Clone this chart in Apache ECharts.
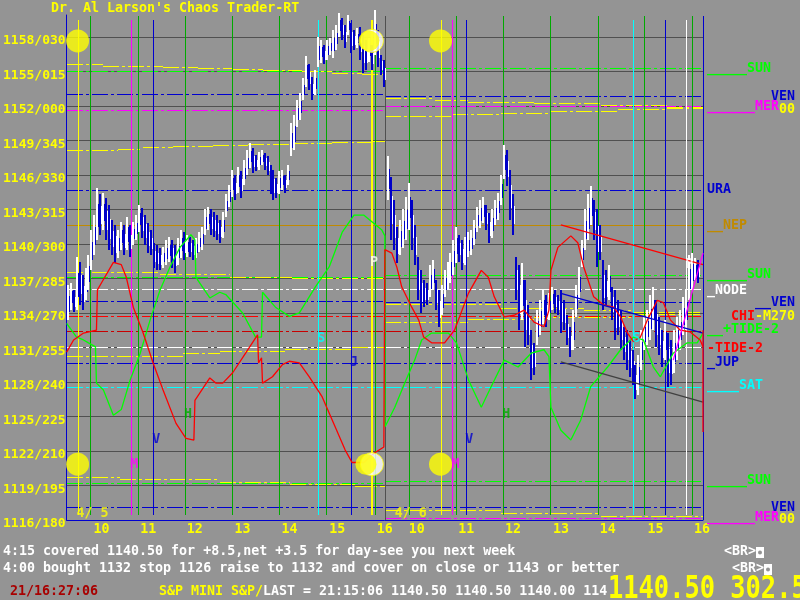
<!DOCTYPE html>
<html><head><meta charset="utf-8">
<script src="https://cdn.jsdelivr.net/npm/echarts@6/dist/echarts.min.js"></script>
<style>html,body{margin:0;padding:0;background:#949494}#c{width:800px;height:600px}</style>
</head><body><div id="c"></div>
<script>
// ---------- DATA ----------
// x values are session hours counted from 9:15 on 4/5 (chart start)
const hourLabels = ['10','11','12','13','14','15','16'];
const day1HourTimes = [0.74,1.73,2.72,3.73,4.73,5.74,6.75];
const day2HourTimes = [7.43,8.48,9.47,10.49,11.48,12.49,13.48];
const dayLabels = ['4/ 5','4/ 6'];
const dayLabelTimes = [0.55,7.3];
const dayBounds = [[0,6.75],[6.75,13.5]];

const yTickValues = [1116,1119,1122,1125,1128,1131,1134,1137,1140,1143,1146,1149,1152,1155,1158];
const yTickLabels = ['1116/180','1119/195','1122/210','1125/225','1128/240','1131/255','1134/270','1137/285','1140/300','1143/315','1146/330','1149/345','1152/000','1155/015','1158/030'];

// S&P mini price bars (high / low), one bar every BAR_HOURS
const BAR_HOURS = 0.0633;
const day1FirstBar = 0.021, day2FirstBar = 6.814;
const day1High = [1136.4,1136.6,1136.0,1138.9,1138.4,1137.3,1137.9,1139.05,1141.2,1142.5,
1144.9,1144.3,1144.4,1144.0,1143.4,1142.1,1141.65,1141.2,1141.9,1141.65,
1142.35,1141.65,1141.9,1142.5,1143.4,1143.1,1142.5,1141.8,1141.2,1140.1,
1139.9,1139.65,1139.7,1140.35,1140.6,1140.35,1139.9,1140.5,1141.2,1141.05,
1140.8,1140.6,1140.35,1140.5,1141.05,1141.5,1143.0,1143.2,1143.0,1142.8,
1142.5,1142.1,1142.8,1144.3,1145.1,1146.4,1146.0,1146.7,1146.3,1147.3,
1148.2,1148.8,1148.35,1147.7,1148.0,1148.2,1147.9,1147.6,1146.9,1146.4,
1145.7,1146.3,1146.4,1146.0,1146.9,1150.5,1151.2,1152.5,1153.1,1154.4,
1156.3,1155.6,1154.5,1155.1,1158.0,1157.7,1157.3,1157.7,1157.9,1158.6,
1159.05,1160.09,1159.65,1159.05,1159.9,1159.2,1158.6,1158.8,1158.87,1158.2,
1157.7,1157.9,1157.3,1160.35,1158.6,1156.4,1156.0];
const day1Low = [1133.4,1134.25,1134.1,1134.25,1134.7,1134.25,1135.1,1136.0,1137.7,1139.05,
1140.35,1140.8,1141.2,1140.35,1139.5,1139.05,1138.35,1138.8,1139.5,1139.05,
1139.5,1138.9,1139.9,1140.35,1141.05,1140.5,1139.9,1139.2,1139.05,1137.9,
1137.7,1137.7,1137.9,1138.2,1138.4,1137.9,1137.5,1138.2,1138.8,1138.6,
1138.9,1138.9,1138.6,1138.8,1139.3,1139.5,1140.8,1141.2,1140.8,1140.6,
1140.35,1140.1,1140.5,1142.35,1143.2,1144.1,1143.8,1144.4,1144.0,1145.1,
1146.0,1146.6,1146.2,1146.3,1146.4,1146.9,1146.4,1146.0,1144.3,1143.8,
1144.0,1144.3,1144.7,1144.4,1145.1,1147.6,1148.2,1150.2,1150.8,1152.5,
1153.65,1153.4,1152.5,1152.95,1155.4,1155.7,1155.6,1156.0,1156.4,1156.2,
1156.9,1158.0,1157.7,1157.05,1158.2,1156.6,1156.9,1157.05,1156.0,1154.9,
1155.1,1155.8,1155.1,1156.4,1155.4,1154.7,1153.65];
const day2High = [1147.6,1145.8,1143.8,1141.5,1142.1,1143.0,1144.1,1145.3,1143.8,1141.65,
1138.9,1137.7,1136.9,1136.6,1138.2,1138.6,1136.9,1136.0,1136.4,1137.7,
1138.4,1139.2,1140.35,1141.5,1140.8,1140.35,1140.6,1141.05,1141.2,1142.1,
1143.2,1143.8,1144.1,1143.4,1142.7,1143.0,1143.8,1144.4,1146.0,1148.6,
1148.2,1146.4,1144.3,1138.9,1138.2,1138.35,1136.9,1134.7,1132.5,1131.4,
1134.25,1135.1,1136.0,1135.6,1135.7,1136.25,1136.0,1135.6,1136.0,1135.1,
1133.8,1132.8,1134.25,1136.4,1138.0,1140.35,1143.0,1144.3,1145.0,1143.8,
1143.0,1141.65,1138.6,1137.7,1138.2,1136.25,1136.0,1135.1,1134.25,1132.8,
1132.5,1131.65,1130.8,1129.5,1130.35,1132.5,1133.65,1134.25,1135.6,1136.25,
1135.1,1133.65,1132.5,1133.4,1132.25,1131.65,1132.5,1133.65,1134.25,1135.4,
1136.0,1139.05,1139.2,1138.8,1138.6];
const day2Low = [1143.8,1140.35,1139.5,1138.35,1139.05,1139.65,1140.35,1141.2,1139.5,1138.2,
1135.1,1134.0,1134.5,1134.7,1135.4,1136.0,1134.25,1132.8,1133.8,1135.4,
1136.0,1136.6,1137.3,1138.35,1138.4,1137.7,1138.2,1138.9,1139.05,1139.9,
1141.0,1141.4,1141.8,1141.2,1140.1,1140.5,1141.65,1142.1,1143.4,1145.6,
1145.0,1142.1,1140.8,1135.1,1132.5,1133.4,1131.05,1131.2,1128.2,1128.6,
1131.2,1132.1,1133.0,1132.8,1133.4,1134.25,1134.0,1133.8,1132.25,1132.5,
1131.2,1130.2,1130.8,1133.65,1135.1,1138.0,1139.5,1140.35,1141.65,1140.35,
1138.0,1138.6,1134.25,1134.7,1135.1,1133.4,1131.65,1132.1,1130.8,1129.9,
1129.05,1128.45,1127.75,1126.5,1126.9,1129.05,1130.8,1131.2,1131.65,1132.5,
1131.05,1130.35,1129.3,1129.9,1127.6,1127.75,1128.8,1129.9,1130.8,1132.1,
1132.5,1135.1,1136.0,1136.9,1136.6];

// cycle curves [time, level]
const greenCycle = [[0,1133.1],[0.211,1131.9],[0.359,1131.65],[0.464,1131.4],[0.612,1131.05],[0.633,1127.9],[0.781,1127.3],[0.992,1125.1],[1.16,1125.6],[1.35,1128.2],[1.561,1130.5],[1.772,1133.4],[1.983,1136.0],[2.194,1138.0],[2.405,1139.7],[2.637,1140.8],[2.722,1140.35],[2.743,1137.1],[3.038,1135.3],[3.249,1135.8],[3.376,1135.6],[3.734,1134.0],[4.008,1131.9],[4.135,1131.9],[4.156,1135.8],[4.43,1134.5],[4.726,1133.7],[4.937,1134.0],[5.274,1136.25],[5.57,1138.0],[5.844,1141.0],[6.097,1142.5],[6.308,1142.5],[6.688,1141.2],[6.751,1140.7],[6.755,1124.1],[6.962,1125.8],[7.173,1127.9],[7.384,1129.9],[7.532,1131.65],[7.743,1132.25],[8.101,1132.25],[8.27,1131.4],[8.523,1128.2],[8.797,1125.8],[9.008,1127.6],[9.283,1129.9],[9.578,1129.3],[9.852,1130.5],[10.127,1130.8],[10.232,1130.2],[10.274,1125.8],[10.485,1123.8],[10.696,1122.95],[10.907,1124.7],[11.118,1127.6],[11.477,1129.3],[11.751,1130.8],[12.025,1131.9],[12.236,1131.65],[12.447,1129.3],[12.595,1128.45],[12.869,1130.5],[13.165,1131.4],[13.376,1131.4],[13.5,1132.25]];
const redCycle = [[0,1130.6],[0.148,1131.65],[0.359,1132.25],[0.633,1132.5],[0.654,1136.0],[0.738,1136.6],[0.992,1138.4],[1.16,1138.2],[1.266,1137.1],[1.414,1134.5],[1.624,1132.25],[1.835,1129.65],[2.046,1127.3],[2.321,1124.4],[2.532,1123.1],[2.7,1122.95],[2.722,1126.4],[3.038,1128.35],[3.165,1127.9],[3.312,1127.9],[3.523,1128.8],[3.797,1130.5],[4.051,1132.1],[4.072,1129.65],[4.135,1130.1],[4.156,1127.9],[4.367,1128.45],[4.578,1129.5],[4.726,1129.8],[4.937,1129.65],[5.148,1128.45],[5.422,1126.7],[5.696,1124.1],[5.907,1122.1],[6.055,1121.0],[6.308,1121.0],[6.519,1121.8],[6.73,1122.35],[6.751,1139.5],[6.899,1139.2],[7.004,1138.0],[7.11,1136.25],[7.321,1134.5],[7.468,1133.4],[7.574,1131.9],[7.743,1131.4],[8.017,1131.4],[8.228,1132.5],[8.523,1135.7],[8.797,1137.7],[8.945,1137.1],[9.072,1135.4],[9.283,1133.65],[9.494,1133.8],[9.705,1134.25],[9.916,1133.2],[10.127,1132.8],[10.232,1134.25],[10.274,1137.7],[10.422,1139.7],[10.696,1140.7],[10.844,1140.1],[10.97,1138.0],[11.181,1135.4],[11.392,1134.7],[11.603,1134.5],[11.751,1133.65],[11.899,1132.25],[12.025,1131.5],[12.173,1131.9],[12.321,1133.4],[12.532,1135.1],[12.658,1134.9],[12.806,1133.4],[13.017,1132.5],[13.228,1132.35],[13.439,1131.65],[13.5,1131.05]];

// trend lines drawn on 4/6
const trendRed = [[10.485,1141.65],[13.5,1138.2]];
const trendBlue = [[10.485,1135.7],[13.5,1132.25]];
const trendGray = [[10.485,1129.75],[13.5,1126.25]];
const trendMagenta = [[12.869,1129.9],[13.5,1139.2]];
const tideMark = [[13.5,1132.5],[13.5,1123.65]];

// planetary price levels (dash-dot), per day
const levelNames = ['SUN','VEN','MER','URA','NEP','SUN','NODE','VEN','CHI','TIDE','NODE','JUP','SAT','SUN','VEN','MER'];
const levelDay1 = [1155.05,1153.05,1151.65,1144.7,1141.65,1137.1,1136.1,1135.05,1133.7,1132.45,1131.0,1129.65,1127.6,1119.2,1117.1,null];
const levelDay2 = [1155.3,1152.9,1152.0,1144.7,1141.65,1137.3,1136.1,1134.95,1133.7,1132.45,1131.0,1129.65,1127.6,1119.4,1117.1,1116.2];

// moon-harmonic stepped levels [time, level]
const moonLevels = [
  [[0,1155.6],[0.78,1155.5],[2.05,1155.4],[2.79,1155.3],[3.52,1155.2],[4.16,1155.1],[5.0,1155.0],[5.63,1154.9],[6.27,1154.8],[6.75,1154.8]],
  [[0,1148.18],[1.1,1148.25],[1.62,1148.45],[2.26,1148.5],[3.1,1148.6],[3.84,1148.7],[4.79,1148.8],[5.63,1148.85],[6.48,1148.95],[6.75,1149.04]],
  [[0,1137.57],[1.98,1137.4],[3.46,1137.13],[4.79,1137.05],[6.75,1136.87]],
  [[0,1130.26],[2.47,1130.5],[3.25,1130.7],[4.64,1130.87],[6.06,1131.05],[6.75,1131.05]],
  [[0,1119.74],[1.14,1119.57],[3.25,1119.3],[4.73,1119.13],[6.12,1118.96],[6.75,1118.96]],
  [[6.75,1152.7],[7.81,1152.5],[8.52,1152.35],[9.92,1152.26],[11.33,1152.09],[12.74,1151.9],[13.5,1151.8]],
  [[6.75,1151.13],[8.17,1151.3],[9.22,1151.4],[10.27,1151.57],[11.69,1151.74],[12.74,1151.8],[13.5,1151.8]],
  [[6.75,1134.78],[9.22,1134.43],[10.97,1134.26],[12.03,1134.09],[13.5,1134.0]],
  [[6.75,1133.2],[8.52,1133.48],[9.92,1133.65],[12.03,1133.9],[13.5,1134.0]],
  [[6.75,1116.87],[9.22,1116.6],[11.33,1116.35],[13.5,1116.26]]
];

// planetary time lines
const vlineTimes = [0.232,0.506,1.371,1.519,1.835,2.511,3.502,4.515,5.338,5.506,6.034,6.477,6.54,6.751,7.257,7.932,8.186,8.27,8.481,9.262,10.253,11.266,12.025,12.257,12.7,13.143,13.27,13.5];
const vlineKinds = ['moon','har','mer','har','ven','har','har','har','sat','har','jup','full','har','day','har','moon','mer','har','ven','har','har','har','sat','har','jup','plu','har','border'];

// event letters
const eventText = ['M','V','H','S','J','P','M','V','H','S','P'];
const eventTimes = [1.435,1.899,2.574,5.401,6.097,6.519,8.249,8.544,9.325,12.089,13.207];
const eventLevels = [1120.8,1123.0,1125.2,1131.75,1129.65,1138.35,1120.8,1123.0,1125.2,1131.8,1138.2];
const eventKinds = ['mer','ven','har','sat','jup','plu','mer','ven','har','sat','plu'];

// moons
const moonTimes = [0.232,7.932];
const fullMoonTime = 6.477;
const moonY = [1157.65,1120.85];

// ---------- STYLE ----------
const C = {YEL:'#ffff00',GRN:'#00ff00',DGRN:'#00aa00',BLU:'#0000d0',MAG:'#ff00ff',CYN:'#00ffff',RED:'#ff0000',DRED:'#c80000',WHT:'#ffffff',NEP:'#c08a00',GRID:'#505050'};
const levelColor = {SUN:C.GRN,VEN:C.BLU,MER:C.MAG,URA:C.BLU,NEP:C.NEP,NODE:C.WHT,CHI:C.RED,TIDE:C.DRED,JUP:C.BLU,SAT:C.CYN};
const kindColor = {moon:C.YEL,full:C.YEL,har:C.DGRN,mer:C.MAG,ven:C.BLU,jup:C.BLU,sat:C.CYN,plu:C.WHT,day:'#505050',border:C.BLU};
const DASH = [16,3,3,3];
const FONT = '"DejaVu Sans Mono", "Liberation Mono", monospace';

function buildBars(start, highs, lows){
  const out=[]; let prev=null;
  for(let i=0;i<highs.length;i++){
    const mid=(highs[i]+lows[i])/2;
    const dir = prev===null ? 1 : (mid>=prev?1:-1);
    out.push([start+i*BAR_HOURS, highs[i], lows[i], dir]);
    prev=mid;
  }
  return out;
}
const bars = buildBars(day1FirstBar, day1High, day1Low).concat(buildBars(day2FirstBar, day2High, day2Low));

// horizontal segments: [t0, t1, level, styleIndex]  (styleIndex -1 => moon harmonic yellow)
const hSegs = [];
levelNames.forEach((n,i)=>{
  [levelDay1[i], levelDay2[i]].forEach((v,d)=>{
    if(v!==null) hSegs.push([dayBounds[d][0], dayBounds[d][1], v, i]);
  });
});
moonLevels.forEach(pts=>{
  for(let i=0;i<pts.length-1;i++) hSegs.push([pts[i][0], pts[i+1][0], pts[i][1], -1]);
});
const crisp = v => Math.round(v)+0.5;

const series = [];
series.push({type:'custom', z:2, silent:true, animation:false, clip:false, data:hSegs,
  renderItem:function(params, api){
    const idx=api.value(3), lv=api.value(2);
    const a=api.coord([api.value(0),lv]), b=api.coord([api.value(1),lv]);
    const y=crisp(a[1]);
    const name = idx>=0 ? levelNames[idx] : null;
    const color = idx>=0 ? levelColor[name] : C.YEL;
    return {type:'line', shape:{x1:Math.round(a[0]), y1:y, x2:Math.round(b[0]), y2:y},
      style:{stroke:color, lineWidth:1, lineDash: name==='NEP'?null:DASH}};
  }});
// vertical time lines
series.push({type:'custom', z:3, silent:true, animation:false, clip:false,
  data: vlineTimes.map((t,i)=>[t,i]),
  renderItem:function(params, api){
    const k=vlineKinds[api.value(1)];
    const top = (k==='har'||k==='border'||k==='day') ? 1159.85 : 1159.45;
    const bot = (k==='border'||k==='day') ? 1116 : 1116.45;
    const a=api.coord([api.value(0),top]), b=api.coord([api.value(0),bot]);
    const w = k==='full'?2:1;
    const x = w===2 ? Math.round(a[0]) : crisp(a[0]);
    return {type:'line', shape:{x1:x,y1:Math.round(a[1]),x2:x,y2:Math.round(b[1])}, style:{stroke:kindColor[k], lineWidth:w}};
  }});
// price bars
series.push({type:'custom', z:4, silent:true, clip:false, animation:false, data:bars,
  renderItem:function(params, api){
    const t=api.value(0);
    const a=api.coord([t,api.value(1)]), b=api.coord([t,api.value(2)]);
    const y0=Math.round(a[1]), h=Math.max(1,Math.round(b[1])-y0);
    const up=api.value(3)>0;
    const x=Math.round(a[0]);
    return {type:'group', children:[
      {type:'rect', shape:{x:x-1,y:y0,width:2,height:h}, style:{fill: up?'#ffffff':'#0000c8'}},
      {type:'rect', shape:{x:x+1,y:Math.round(y0+h*0.3),width:1,height:Math.round(h*0.45)}, style:{fill: up?'#0000c8':'#ffffff'}}
    ]};
  }});
// cycles
series.push({type:'line', z:5, silent:true, symbol:'none', animation:false, data:greenCycle, lineStyle:{color:'#00ff00', width:1.3}});
series.push({type:'line', z:5, silent:true, symbol:'none', animation:false, data:redCycle, lineStyle:{color:C.RED, width:1.3}});
[[trendRed,C.RED],[trendBlue,C.BLU],[trendGray,'#404040'],[trendMagenta,C.MAG],[tideMark,C.RED]].forEach(([d,c])=>{
  series.push({type:'line', z:5, silent:true, symbol:'none', animation:false, data:d, lineStyle:{color:c, width:1.3}});
});
// moons
series.push({type:'scatter', z:6, silent:true, animation:false, symbol:'circle', symbolSize:23,
  itemStyle:{color:C.YEL},
  data: moonTimes.flatMap(t=>moonY.map(y=>[t,y]))});
series.push({type:'scatter', z:6, silent:true, animation:false, symbol:'circle', symbolSize:23,
  itemStyle:{color:'#ffffff', borderColor:C.YEL, borderWidth:1},
  data: moonY.map(y=>[fullMoonTime,y])});
series.push({type:'scatter', z:7, silent:true, animation:false, symbol:'circle', symbolSize:21,
  itemStyle:{color:C.YEL},
  data:[{value:[fullMoonTime,moonY[0]], symbolOffset:[-3,0]},{value:[fullMoonTime,moonY[1]], symbolOffset:[-6,0]}]});
// event letters
series.push({type:'scatter', z:8, silent:true, animation:false, symbolSize:0,
  data: eventText.map((s,i)=>({value:[eventTimes[i],eventLevels[i]], name:s,
    label:{show:true, position:'inside', formatter:s, color:kindColor[eventKinds[i]], fontFamily:FONT, fontWeight:'bold', fontSize:13.3}}))});
// day labels
series.push({type:'scatter', z:8, silent:true, animation:false, symbolSize:0,
  data: dayLabels.map((s,i)=>({value:[dayLabelTimes[i],1116.6],
    label:{show:true, position:'inside', formatter:s, color:C.YEL, fontFamily:FONT, fontWeight:'bold', fontSize:13.3}}))});

const allHourTimes = day1HourTimes.concat(day2HourTimes);

function T(text,x,y,fill,opt){
  return Object.assign({type:'text', x:x, y:y, silent:true, z:100,
    style:{text:text, fill:fill, font:'bold 13.3px '+FONT, textVerticalAlign:'middle', verticalAlign:'middle'}}, opt||{});
}
const graphics = [
  T("Dr. Al Larson's Chaos Trader-RT",51,9,C.YEL),
  T('_____SUN',707,69,C.GRN), T('VEN',771,97,C.BLU), T('______MER',707,107,C.MAG), T('00',779,110,C.YEL),
  T('URA',707,190,C.BLU), T('__NEP',707,226,C.NEP), T('_____SUN',707,275,C.GRN), T('_NODE',707,291,C.WHT),
  T('__VEN',755,303,C.BLU), T('CHI',731,317,C.RED), T('-M270',755,317,C.YEL), T('__+TIDE-2',707,330,C.GRN),
  T('-TIDE-2',707,349,C.RED), T('_JUP',707,363,C.BLU), T('____SAT',707,386,C.CYN),
  T('_____SUN',707,481,C.GRN), T('VEN',771,508,C.BLU), T('______MER',707,518,C.MAG), T('00',779,520,C.YEL),
  T('4:15 covered 1140.50 for +8.5,net +3.5 for day-see you next week',3,552,C.WHT),
  T('4:00 bought 1132 stop 1126 raise to 1132 and cover on close or 1143 or better',3,569,C.WHT),
  T('<BR>',724,552,C.WHT), T('<BR>',732,569,C.WHT),
  {type:'rect', shape:{x:756,y:547,width:8,height:11}, style:{fill:'#ffffff'}, silent:true, z:100},
  {type:'circle', shape:{cx:760,cy:552.5,r:2}, style:{fill:'#949494'}, silent:true, z:101},
  {type:'rect', shape:{x:764,y:564,width:8,height:11}, style:{fill:'#ffffff'}, silent:true, z:100},
  {type:'circle', shape:{cx:768,cy:569.5,r:2}, style:{fill:'#949494'}, silent:true, z:101},
  T('21/16:27:06',10,592,'#a80000'),
  T('S&P MINI S&P/',159,592,C.YEL),
  T('LAST = 21:15:06 1140.50 1140.50 1140.00 114',263,592,C.WHT),
  {type:'text', x:608, y:574, scaleY:1.25, silent:true, z:100,
    style:{text:'1140.50 302.5', fill:C.YEL, font:'bold 25.4px '+FONT, textVerticalAlign:'top', verticalAlign:'top'}}
];

const chart = echarts.init(document.getElementById('c'), null, {renderer:'canvas'});
chart.setOption({
  backgroundColor:'#949494',
  animation:false,
  grid:{left:63, right:97, top:15, bottom:80, containLabel:false},
  xAxis:{type:'value', min:0, max:13.5,
    axisLine:{show:true, onZero:false, lineStyle:{color:C.BLU, width:1}},
    axisTick:{show:false}, splitLine:{show:false},
    axisLabel:{customValues:allHourTimes, margin:3, color:C.YEL, fontFamily:FONT, fontWeight:'bold', fontSize:13.3,
      formatter:function(v){const i=allHourTimes.findIndex(a=>Math.abs(a-v)<1e-6); return i>=0?hourLabels[i%hourLabels.length]:'';}}},
  yAxis:{type:'value', min:1116, max:1159.9, interval:3,
    axisLine:{show:true, onZero:false, lineStyle:{color:C.BLU, width:1}},
    axisTick:{show:false},
    splitLine:{show:true, showMaxLine:false, showMinLine:false, lineStyle:{color:C.GRID, width:1}},
    axisLabel:{margin:1, color:C.YEL, fontFamily:FONT, fontWeight:'bold', fontSize:13, showMaxLabel:false,
      verticalAlign:'top', lineHeight:8,
      formatter:function(v){const i=yTickValues.indexOf(Math.round(v)); return (i>=0 && Math.abs(v-Math.round(v))<1e-6)?yTickLabels[i]:'';}}},
  series:series,
  graphic:graphics
});
</script></body></html>
